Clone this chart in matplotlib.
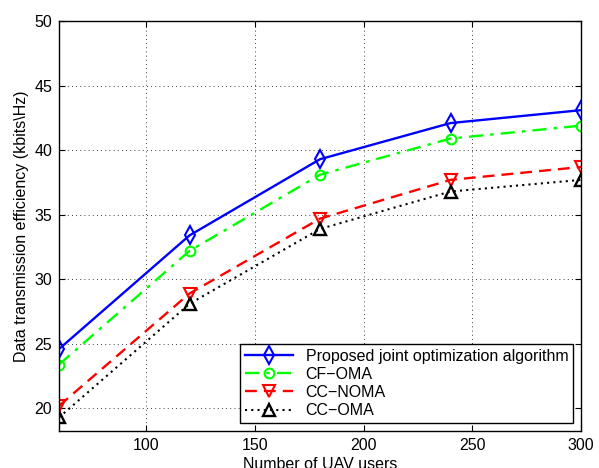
import matplotlib
matplotlib.use("Agg")
import matplotlib.pyplot as plt

users = [60, 120, 180, 240, 300]
proposed = [24.6, 33.4, 39.3, 42.1, 43.1]
cf_oma = [23.4, 32.2, 38.1, 40.9, 41.9]
cc_noma = [20.2, 28.9, 34.7, 37.7, 38.7]
cc_oma = [19.3, 28.1, 33.9, 36.8, 37.7]

plt.rcParams["font.family"] = ["Liberation Sans", "DejaVu Sans"]
plt.rcParams["font.size"] = 11.5

fig = plt.figure(figsize=(5.99, 4.68), dpi=100)
ax = fig.add_axes([0.0985, 0.079, 0.8715, 0.876])

ax.plot(users, proposed, "b-", marker="d", mfc="none", ms=9, mew=1.5, lw=1.7,
        label="Proposed joint optimization algorithm")
ax.plot(users, cf_oma, color="#00ff00", ls=(0, (6, 3, 1.5, 3)), marker="o", mfc="none",
        ms=7, mew=1.5, lw=1.7, label="CF\u2212OMA")
ax.plot(users, cc_noma, color="r", ls=(0, (5, 3)), marker="v", mfc="none", ms=8, mew=1.5,
        lw=1.7, label="CC\u2212NOMA")
ax.plot(users, cc_oma, color="k", ls=(0, (1, 2)), marker="^", mfc="none", ms=8, mew=1.7,
        lw=1.5, label="CC\u2212OMA")

ax.set_xlim(60, 300)
ax.set_ylim(18.25, 50)
ax.set_xticks([100, 150, 200, 250, 300])
ax.set_yticks([20, 25, 30, 35, 40, 45, 50])
ax.tick_params(direction="in", top=True, right=True, length=4, pad=5)
ax.grid(True, ls=(0, (1, 4)), color="k", lw=0.6)
for s in ax.spines.values():
    s.set_linewidth(1.0)

# the x label sits at the bottom edge and is partly cut, as in the source figure
ax.set_xlabel("Number of UAV users", labelpad=3)
ax.set_ylabel("Data transmission efficiency (kbits\\Hz)", labelpad=4)

leg = ax.legend(loc="lower right", fancybox=False, edgecolor="k", framealpha=1,
                handlelength=3.0, borderpad=0.3, labelspacing=0.2, borderaxespad=0.5)
leg.get_frame().set_linewidth(1.0)

fig.savefig("out.png", dpi=100)
